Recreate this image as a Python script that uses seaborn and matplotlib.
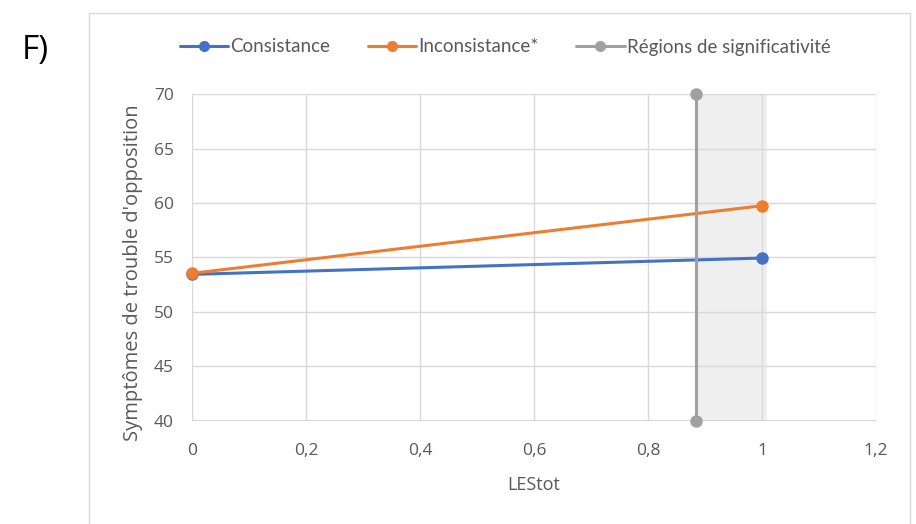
import matplotlib
matplotlib.use("Agg")
import matplotlib.pyplot as plt
import numpy as np
import pandas as pd
import seaborn as sns
from matplotlib.patches import Rectangle

# data
lestot = [0.0, 1.0]
consistance = [53.45, 54.95]
inconsistance = [53.55, 59.75]
region_x = [0.884, 0.884]
region_y = [40.0, 70.0]
region_span = (0.884, 1.008)

x_ticks = [0, 0.2, 0.4, 0.6, 0.8, 1.0, 1.2]
x_ticklabels = ["0", "0,2", "0,4", "0,6", "0,8", "1", "1,2"]
y_ticks = [40, 45, 50, 55, 60, 65, 70]

BLUE = "#4472C4"
ORANGE = "#ED7D31"
GRAY = "#A0A0A0"
TEXT = "#595959"

sns.set_theme(style="white")
plt.rcParams["font.family"] = ["Open Sans", "DejaVu Sans"]

df = pd.DataFrame(
    {
        "LEStot": lestot * 2,
        "val": consistance + inconsistance,
        "serie": ["Consistance"] * 2 + ["Inconsistance*"] * 2,
    }
)

fig = plt.figure(figsize=(9.16, 5.24), dpi=100)
ax = fig.add_axes([0.2096, 0.1966, 0.9563 - 0.2096, 0.8206 - 0.1966])

# outer chart border
fig.patches.append(
    Rectangle((89 / 916, -0.05), (910 - 89) / 916, (524 - 13) / 524 + 0.05,
              transform=fig.transFigure, fill=False, edgecolor="#d9d9d9", linewidth=1.0)
)

ax.axvspan(*region_span, color="#efefef", zorder=0, linewidth=0)

sns.lineplot(
    data=df, x="LEStot", y="val", hue="serie",
    palette={"Consistance": BLUE, "Inconsistance*": ORANGE},
    marker="o", markersize=9, markeredgewidth=0, linewidth=2.2,
    ax=ax, legend=False, zorder=3,
)
sns.lineplot(
    x=region_x, y=region_y, estimator=None, color=GRAY, marker="o",
    markersize=9, markeredgewidth=0, linewidth=2.2, ax=ax, zorder=4,
)
for ln in ax.lines:
    ln.set_clip_on(False)

ax.set_xlim(0, 1.2)
ax.set_ylim(40, 70)
ax.set_xticks(x_ticks)
ax.set_xticklabels(x_ticklabels)
ax.set_yticks(y_ticks)
ax.grid(True, color="#d9d9d9", linewidth=1.0)
ax.set_axisbelow(True)
for s in ax.spines.values():
    s.set_visible(False)
ax.axhline(40, color="#d0d0d0", linewidth=1.2, zorder=1)
ax.tick_params(axis="both", colors=TEXT, labelsize=12.5, length=0)
ax.tick_params(axis="y", pad=13)
ax.tick_params(axis="x", pad=16)
ax.set_xlabel("LEStot", color=TEXT, fontsize=13, labelpad=12)
ax.set_ylabel("Symptômes de trouble d'opposition", color=TEXT, fontsize=14.5)
ax.yaxis.set_label_coords(-0.0863, 0.453)
ax.yaxis.label.set_va("center")

handles = [
    plt.Line2D([], [], color=BLUE, marker="o", markersize=8, markeredgewidth=0, linewidth=2.2),
    plt.Line2D([], [], color=ORANGE, marker="o", markersize=8, markeredgewidth=0, linewidth=2.2),
    plt.Line2D([], [], color=GRAY, marker="o", markersize=8, markeredgewidth=0, linewidth=2.2),
]
fig.legend(
    handles, ["Consistance", "Inconsistance*", "Régions de significativité"],
    loc="center", bbox_to_anchor=(505 / 916, 1 - 47 / 524), ncol=3, frameon=False,
    labelcolor=TEXT, handlelength=2.6, handletextpad=0.1, columnspacing=2.0,
    prop={"family": ["Lato", "DejaVu Sans"], "size": 13.5},
)

fig.text(22 / 916, 1 - 50 / 524, "F)", fontsize=24, color="black", va="center", ha="left")

fig.savefig("out.png", dpi=100)
